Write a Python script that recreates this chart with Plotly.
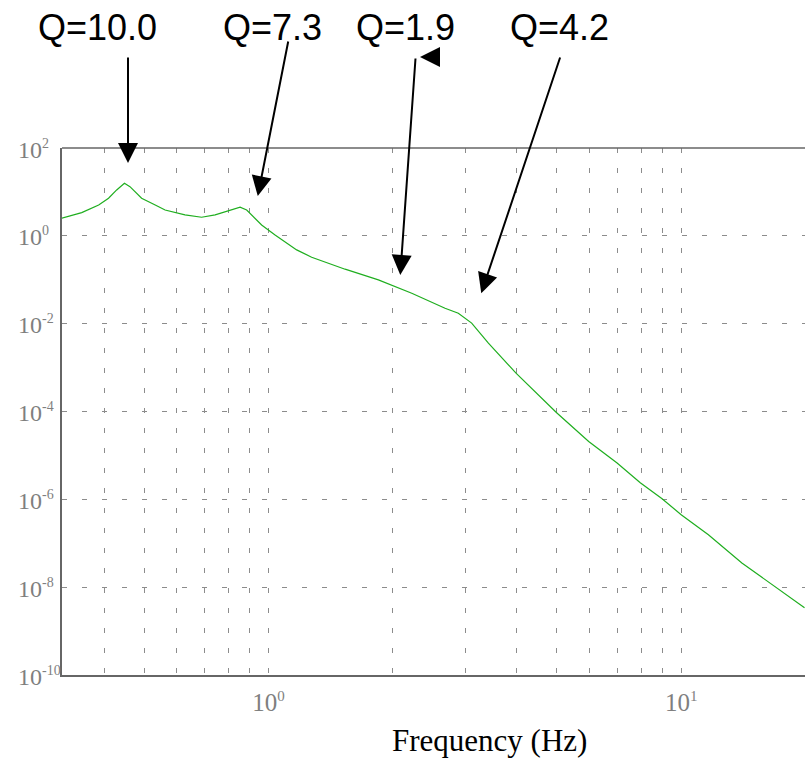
import math
import plotly.graph_objects as go

# ---- data ----
freq_hz = [0.316, 0.353, 0.388, 0.410, 0.429, 0.448, 0.462, 0.493, 0.532, 0.562,
           0.628, 0.689, 0.743, 0.800, 0.854, 0.886, 0.963, 1.038, 1.171, 1.273,
           1.534, 1.847, 2.225, 2.679, 2.885, 3.108, 3.412, 3.98, 4.985, 5.97,
           6.995, 7.96, 8.99, 10.0, 11.64, 14.03, 16.89, 19.9]
magnitude = [2.51, 3.37, 5.05, 7.16, 11.1, 15.7, 13.2, 7.16, 5.05, 3.88,
             2.99, 2.65, 2.99, 3.69, 4.48, 3.88, 1.77, 1.05, 0.478, 0.326,
             0.174, 0.0993, 0.0494, 0.0225, 0.0173, 0.0103, 0.0036, 7.48e-4, 9.48e-5, 2.07e-5,
             6.70e-6, 2.39e-6, 1.03e-6, 4.47e-7, 1.56e-7, 3.55e-8, 1.01e-8, 3.4e-9]

q_labels = ["Q=10.0", "Q=7.3", "Q=1.9", "Q=4.2"]

x_tick_vals = [1, 10]
x_tick_exps = ["0", "1"]
x_minor_vals = [0.4, 0.5, 0.6, 0.7, 0.8, 0.9, 2, 3, 4, 5, 6, 7, 8, 9]
y_tick_vals = [1e-10, 1e-8, 1e-6, 1e-4, 1e-2, 1, 1e2]
y_tick_exps = ["-10", "-8", "-6", "-4", "-2", "0", "2"]
x_title = "Frequency (Hz)"


def pow_label(e, sup_px):
    return "10<sup><span style='font-size:%dpx'>%s</span></sup>" % (sup_px, e)


# ---- figure ----
W, H = 805, 758
ML, MR, MT, MB = 62, 0, 148, 83
PW, PH = W - ML - MR, H - MT - MB


def px_to_paper(px, py):
    return (px - ML) / PW, (H - MB - py) / PH


fig = go.Figure()
fig.add_trace(go.Scatter(x=freq_hz, y=magnitude, mode="lines",
                         line=dict(color="#1fae1f", width=1.2),
                         showlegend=False, hoverinfo="skip"))

grid = dict(gridcolor="#8c8c8c", gridwidth=1, griddash="5px,15px")
serif = "Liberation Serif, Times New Roman, serif"
xtickfont = dict(family=serif, size=25, color="#7f7f7f")
ytickfont = dict(family=serif, size=24, color="#7f7f7f")

fig.update_xaxes(type="log", range=[-0.5, 1.3], tickmode="array",
                 tickvals=x_tick_vals, ticktext=[pow_label(e, 15) for e in x_tick_exps],
                 showgrid=True, **grid,
                 minor=dict(tickvals=x_minor_vals, showgrid=True, **grid),
                 showline=True, linecolor="#666666", linewidth=2, mirror=False,
                 zeroline=False, tickfont=xtickfont, ticklabelstandoff=4)
fig.update_yaxes(type="log", range=[-10, 2], tickmode="array",
                 tickvals=y_tick_vals, showticklabels=False,
                 showgrid=True, **grid,
                 showline=True, linecolor="#666666", linewidth=2, mirror=False,
                 zeroline=False)

# top border
fig.add_shape(type="line", xref="paper", yref="paper", x0=0, x1=1, y0=1, y1=1,
              line=dict(color="#666666", width=1.3))

annotations = []

# y tick labels, left-aligned like the reference
lab_x, _ = px_to_paper(16, 0)
for v, e in zip(y_tick_vals, y_tick_exps):
    annotations.append(dict(x=lab_x, y=math.log10(v), xref="paper", yref="y",
                            text=pow_label(e, 14), showarrow=False,
                            xanchor="left", yanchor="middle", yshift=-1,
                            font=ytickfont))

# arrow tips (pixel positions of the reference) and tail offsets
tips = [(128, 167, 0, -111), (257, 200, 31.5, -160), (400, 279, 15.6, -222), (480, 297, 80.6, -241)]
label_centers = [(97, 27), (272.6, 27), (405, 27), (559, 27)]
for (tx, ty, ax, ay), (lx, ly), lab in zip(tips, label_centers, q_labels):
    px, py = px_to_paper(tx, ty)
    annotations.append(dict(x=px, y=py, xref="paper", yref="paper", text="",
                            showarrow=True, arrowhead=2, arrowsize=2, arrowwidth=2,
                            arrowcolor="black", standoff=4, ax=ax, ay=ay))
    qx, qy = px_to_paper(lx, ly)
    annotations.append(dict(x=qx, y=qy, xref="paper", yref="paper", text=lab,
                            showarrow=False, xanchor="center", yanchor="middle",
                            font=dict(family="Liberation Sans, Arial, sans-serif", size=36,
                                      color="black")))

# extra left-pointing head at the top of the Q=1.9 arrow
hx, hy = px_to_paper(416, 57)
annotations.append(dict(x=hx, y=hy, xref="paper", yref="paper", text="",
                        showarrow=True, arrowhead=2, arrowsize=2, arrowwidth=2,
                        arrowcolor="black", standoff=4, ax=20, ay=0))

# x-axis title
tx_, ty_ = px_to_paper(489, 740)
annotations.append(dict(x=tx_, y=ty_, xref="paper", yref="paper", text=x_title,
                        showarrow=False, xanchor="center", yanchor="middle",
                        font=dict(family=serif, size=31, color="black")))

fig.update_layout(width=W, height=H, margin=dict(l=ML, r=MR, t=MT, b=MB),
                  paper_bgcolor="white", plot_bgcolor="white",
                  annotations=annotations, showlegend=False)

fig.write_html("out.html", config={"displayModeBar": False},
               post_script="document.body.style.margin='0';document.body.style.overflow='hidden';")
